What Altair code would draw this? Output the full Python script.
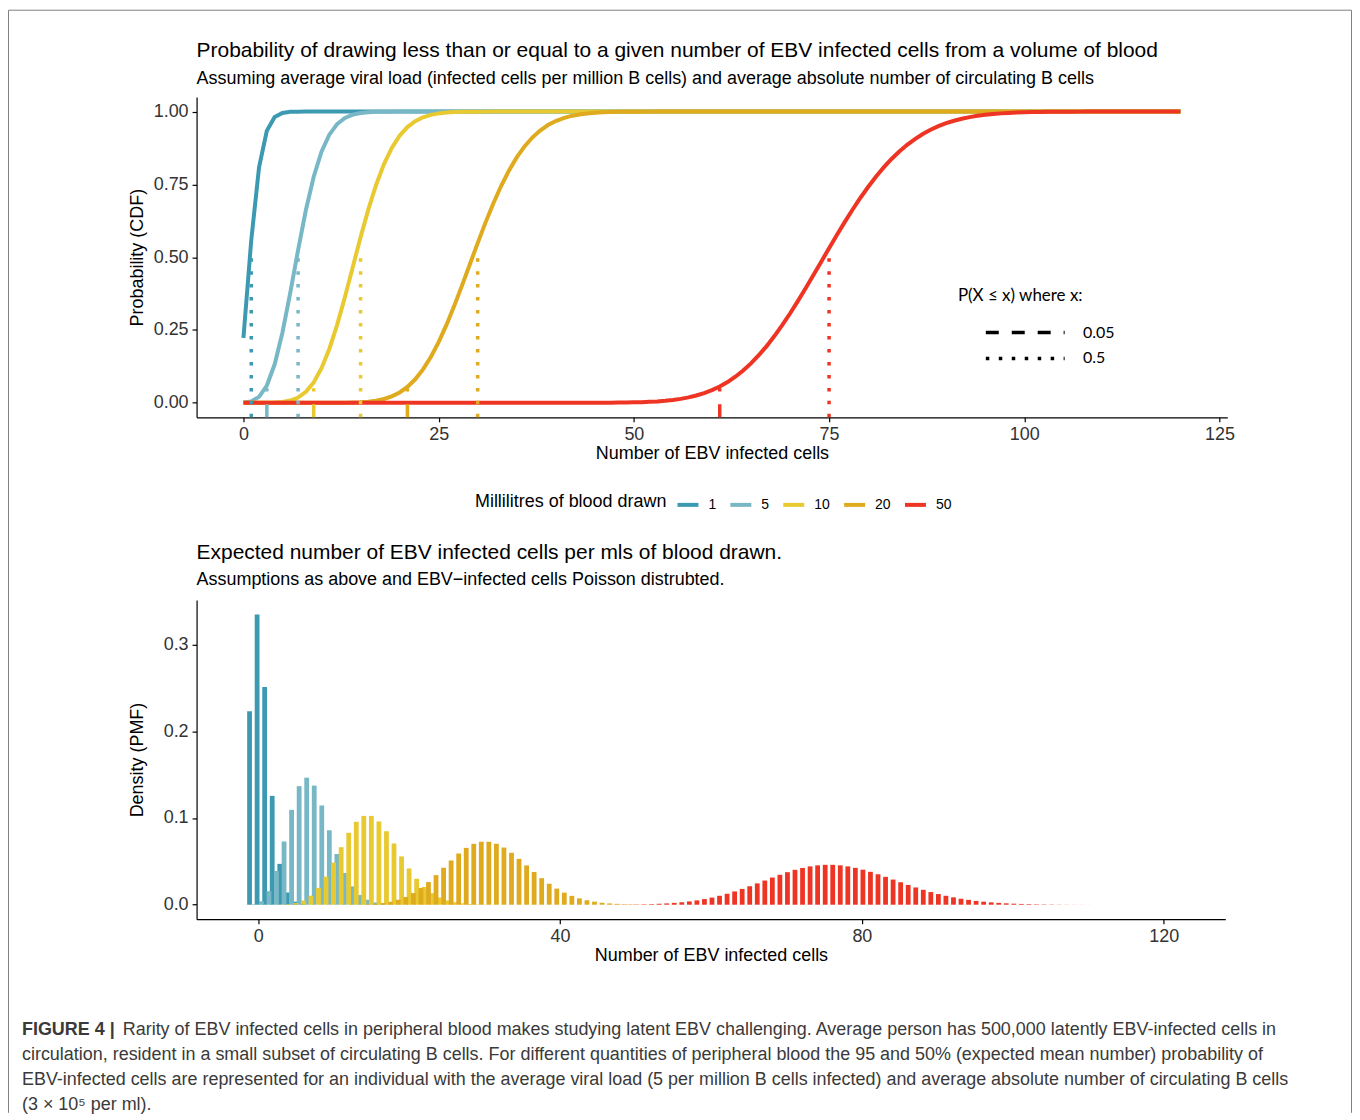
import altair as alt
import pandas as pd

# ---------------- data ----------------
ML_LABELS = ["1", "5", "10", "20", "50"]          # millilitres of blood drawn
COLORS = ["#3B9AB2", "#78B7C5", "#E8C930", "#DFAA1E", "#EE3423"]

# cumulative probabilities (top panel), first value at integer CDF_START
CDF_START = [0, 0, 0, 8, 40]
CDF_1 = [0.2231, 0.5578, 0.8088, 0.9344, 0.9814, 0.9955, 0.9991, 0.9998, 1.0000]
CDF_5 = [0.0006, 0.0047, 0.0203, 0.0591, 0.1321, 0.2414, 0.3782, 0.5246, 0.6620,
         0.7764, 0.8622, 0.9208, 0.9573, 0.9784, 0.9897, 0.9954, 0.9980, 0.9992,
         0.9997, 0.9999, 1.0000]
CDF_10 = [0.0000, 0.0000, 0.0000, 0.0002, 0.0009, 0.0028, 0.0076, 0.0180, 0.0374,
          0.0699, 0.1185, 0.1848, 0.2676, 0.3632, 0.4657, 0.5681, 0.6641, 0.7489,
          0.8195, 0.8752, 0.9170, 0.9469, 0.9673, 0.9805, 0.9888, 0.9938, 0.9967,
          0.9983, 0.9991, 0.9996, 0.9998, 0.9999, 1.0000]
CDF_20 = [0.0000, 0.0000, 0.0000, 0.0001, 0.0002, 0.0004, 0.0009, 0.0019, 0.0039,
          0.0073, 0.0129, 0.0219, 0.0353, 0.0544, 0.0806, 0.1146, 0.1572, 0.2083,
          0.2673, 0.3328, 0.4031, 0.4757, 0.5484, 0.6186, 0.6845, 0.7444, 0.7973,
          0.8426, 0.8803, 0.9109, 0.9351, 0.9537, 0.9676, 0.9778, 0.9851, 0.9902,
          0.9937, 0.9960, 0.9975, 0.9985, 0.9991, 0.9994, 0.9996, 0.9998, 0.9999,
          1.0000]
CDF_50 = [0.0000, 0.0000, 0.0000, 0.0000, 0.0001, 0.0001, 0.0002, 0.0004, 0.0006,
          0.0009, 0.0014, 0.0021, 0.0032, 0.0047, 0.0068, 0.0096, 0.0134, 0.0184,
          0.0249, 0.0331, 0.0433, 0.0560, 0.0712, 0.0894, 0.1107, 0.1353, 0.1632,
          0.1945, 0.2290, 0.2665, 0.3066, 0.3491, 0.3933, 0.4387, 0.4847, 0.5307,
          0.5761, 0.6204, 0.6629, 0.7033, 0.7411, 0.7762, 0.8082, 0.8372, 0.8631,
          0.8859, 0.9058, 0.9230, 0.9376, 0.9499, 0.9602, 0.9686, 0.9755, 0.9811,
          0.9855, 0.9890, 0.9918, 0.9939, 0.9955, 0.9967, 0.9977, 0.9983, 0.9989,
          0.9992, 0.9995, 0.9997, 0.9998, 0.9999, 1.0000]
CDF_VALUES = [CDF_1, CDF_5, CDF_10, CDF_20, CDF_50]
LINE_FIRST_X, LINE_FIRST_P = 0, 0.0
LINE_LAST_X, LINE_LAST_P = 120, 1.0

# quantile markers: P(X <= x) = 0.05 (dashed) and 0.5 (dotted)
Q_LEVELS = ["0.05", "0.5"]
Q_PROBS = [0.05, 0.5]
Q05_X = [None, 3, 9, 21, 61]
Q50_X = [1, 7, 15, 30, 75]

# probability mass (bottom panel), first value at integer PMF_START
PMF_START = [0, 0, 3, 11, 44]
PMF_1 = [0.2231, 0.3347, 0.2510, 0.1255, 0.0471, 0.0141, 0.0035, 0.0008, 0.0001]
PMF_5 = [0.0006, 0.0041, 0.0156, 0.0389, 0.0729, 0.1094, 0.1367, 0.1465, 0.1373,
         0.1144, 0.0858, 0.0585, 0.0366, 0.0211, 0.0113, 0.0057, 0.0026, 0.0012,
         0.0005, 0.0002, 0.0001]
PMF_10 = [0.0002, 0.0006, 0.0019, 0.0048, 0.0104, 0.0194, 0.0324, 0.0486, 0.0663,
          0.0829, 0.0956, 0.1024, 0.1024, 0.0960, 0.0847, 0.0706, 0.0557, 0.0418,
          0.0299, 0.0204, 0.0133, 0.0083, 0.0050, 0.0029, 0.0016, 0.0009, 0.0004,
          0.0002, 0.0001]
PMF_20 = [0.00004, 0.0001, 0.0002, 0.0005, 0.0010, 0.0019, 0.0034, 0.0057, 0.0089,
          0.0134, 0.0192, 0.0261, 0.0341, 0.0426, 0.0511, 0.0590, 0.0655, 0.0702,
          0.0726, 0.0726, 0.0703, 0.0659, 0.0599, 0.0529, 0.0453, 0.0378, 0.0306,
          0.0242, 0.0186, 0.0139, 0.0102, 0.0073, 0.0051, 0.0035, 0.0023, 0.0015,
          0.0010, 0.0006, 0.0004, 0.0002, 0.0001, 0.0001]
PMF_50 = [0.00003, 0.00005, 0.00009, 0.00014, 0.00022, 0.00033, 0.0005, 0.0007,
          0.0011, 0.0015, 0.0021, 0.0028, 0.0038, 0.0050, 0.0065, 0.0082, 0.0103,
          0.0126, 0.0153, 0.0182, 0.0213, 0.0246, 0.0279, 0.0313, 0.0345, 0.0375,
          0.0402, 0.0424, 0.0442, 0.0454, 0.0460, 0.0460, 0.0454, 0.0442, 0.0425,
          0.0404, 0.0379, 0.0351, 0.0321, 0.0290, 0.0259, 0.0228, 0.0199, 0.0172,
          0.0146, 0.0123, 0.0103, 0.0085, 0.0069, 0.0056, 0.0044, 0.0035, 0.0027,
          0.0021, 0.0016, 0.0012, 0.0009, 0.0007, 0.0005, 0.0004, 0.0003, 0.0002,
          0.00013, 0.00009, 0.00007, 0.00004, 0.00003, 0.00002, 0.00001, 0.00001,
          0.00001, 0.000004, 0.000003, 0.000002, 0.000001, 0.000001, 0.0000004]
PMF_VALUES = [PMF_1, PMF_5, PMF_10, PMF_20, PMF_50]

TITLE_TOP = "Probability of drawing less than or equal to a given number of EBV infected cells from a volume of blood"
SUB_TOP = "Assuming average viral load (infected cells per million B cells) and average absolute number of circulating B cells"
TITLE_BOT = "Expected number of EBV infected cells per mls of blood drawn."
SUB_BOT = "Assumptions as above and EBV\u2212infected cells Poisson distrubted."
CAPTION_BOLD = "FIGURE 4 |"
CAPTION_L1 = "Rarity of EBV infected cells in peripheral blood makes studying latent EBV challenging. Average person has 500,000 latently EBV-infected cells in"
CAPTION_REST = [
    "circulation, resident in a small subset of circulating B cells. For different quantities of peripheral blood the 95 and 50% (expected mean number) probability of",
    "EBV-infected cells are represented for an individual with the average viral load (5 per million B cells infected) and average absolute number of circulating B cells",
    "(3 \u00d7 10\u2075 per ml).",
]

# ---------------- tables ----------------
cdf_rows = []
for i, ml in enumerate(ML_LABELS):
    s = CDF_START[i]
    if s > LINE_FIRST_X:
        cdf_rows.append({"ml": ml, "idx": i, "x": LINE_FIRST_X, "p": LINE_FIRST_P})
    for j, v in enumerate(CDF_VALUES[i]):
        cdf_rows.append({"ml": ml, "idx": i, "x": s + j, "p": v})
    cdf_rows.append({"ml": ml, "idx": i, "x": LINE_LAST_X, "p": LINE_LAST_P})
cdf_df = pd.DataFrame(cdf_rows)

q_rows = []
for i, ml in enumerate(ML_LABELS):
    for lvl, prob, xs in zip(Q_LEVELS, Q_PROBS, [Q05_X, Q50_X]):
        if xs[i] is not None:
            q_rows.append({"ml": ml, "idx": i, "q": xs[i], "level": lvl, "p": prob})
q_df = pd.DataFrame(q_rows)

pmf_rows = []
for i, ml in enumerate(ML_LABELS):
    for j, v in enumerate(PMF_VALUES[i]):
        pmf_rows.append({"ml": ml, "idx": i, "k": PMF_START[i] + j, "d": v})
pmf_df = pd.DataFrame(pmf_rows)

one = pd.DataFrame({"z": [0]})

FONT = "Liberation Sans"
TOP_W, TOP_H = 1033, 321
BOT_W, BOT_H = 1031, 320
GAP = 183

color_scale = alt.Scale(domain=ML_LABELS, range=COLORS)
x_top = alt.Scale(domain=[-6, 126], nice=False, zero=False)
y_top = alt.Scale(domain=[-0.05, 1.05], nice=False, zero=False)

lines = alt.Chart(cdf_df).mark_line(strokeWidth=4, strokeCap="butt").encode(
    x=alt.X("x:Q", scale=x_top,
            axis=alt.Axis(values=[0, 25, 50, 75, 100, 125], title="Number of EBV infected cells")),
    y=alt.Y("p:Q", scale=y_top,
            axis=alt.Axis(values=[0, 0.25, 0.5, 0.75, 1.0], format=".2f",
                          title="Probability (CDF)", titleX=-50)),
    color=alt.Color("ml:N", scale=color_scale, sort=ML_LABELS,
                    legend=alt.Legend(title="Millilitres of blood drawn", orient="none",
                                      legendX=279, legendY=396, direction="horizontal",
                                      titleOrient="left", titleLimit=500, symbolType="stroke",
                                      symbolSize=441, symbolStrokeWidth=4,
                                      labelFontSize=14, titleFontSize=18,
                                      titleFontWeight="normal", columnPadding=6,
                                      labelOffset=8, titlePadding=8)),
    order=alt.Order("x:Q"),
)

# long horizontal key drawn with a custom path (scaled by sqrt(size)/2 = 5 px)
rules = alt.Chart(q_df).transform_calculate(lo="-0.05").mark_rule(strokeWidth=3.5, strokeCap="butt").encode(
    x=alt.X("q:Q", scale=x_top),
    y=alt.Y("lo:Q", scale=y_top, title="Probability (CDF)"),
    y2="p:Q",
    color=alt.Color("ml:N", scale=color_scale, legend=None),
    strokeDash=alt.StrokeDash("level:N",
                              scale=alt.Scale(domain=Q_LEVELS, range=[[13, 13], [3.5, 9.5]]),
                              legend=alt.Legend(title="P(X \u2264 x) where x:", orient="none",
                                                legendX=763, legendY=191,
                                                symbolType="M-7.9,0H7.9", symbolSize=100,
                                                symbolStrokeWidth=3.5, symbolStrokeColor="black",
                                                symbolFillColor="transparent",
                                                symbolOffset=59.5, rowPadding=10,
                                                labelFont="Lato", labelFontSize=16,
                                                titleFont="Lato", titleFontSize=17,
                                                titleFontWeight="normal", labelOffset=50,
                                                titlePadding=20)),
)

top = alt.layer(lines, rules).properties(
    width=TOP_W, height=TOP_H,
    title=alt.TitleParams(TITLE_TOP, subtitle=SUB_TOP, anchor="start", frame="group",
                          fontSize=21, subtitleFontSize=18, font=FONT, subtitleFont=FONT,
                          fontWeight="normal", color="black", subtitleColor="black",
                          offset=9.5, subtitlePadding=8.5),
)

x_bot = alt.Scale(domain=[-7.5, 127.5], nice=False, zero=False)
y_bot = alt.Scale(domain=[-0.0167, 0.3514], nice=False, zero=False)

bars = alt.Chart(pmf_df).transform_calculate(
    xpos="datum.k + (datum.idx - 2) * 0.57"
).mark_bar(size=4.8).encode(
    x=alt.X("xpos:Q", scale=x_bot,
            axis=alt.Axis(values=[0, 40, 80, 120], title="Number of EBV infected cells")),
    y=alt.Y("d:Q", scale=y_bot,
            axis=alt.Axis(values=[0, 0.1, 0.2, 0.3], format=".1f",
                          title="Density (PMF)", titleX=-50)),
    y2=alt.datum(0),
    color=alt.Color("ml:N", scale=color_scale, legend=None),
    order=alt.Order("idx:Q"),
)

bottom = bars.properties(
    width=BOT_W, height=BOT_H,
    title=alt.TitleParams(TITLE_BOT, subtitle=SUB_BOT, anchor="start", frame="group",
                          fontSize=21, subtitleFontSize=18, font=FONT, subtitleFont=FONT,
                          fontWeight="normal", color="black", subtitleColor="black",
                          offset=10.5, subtitlePadding=9),
)

# caption panel (origin sits GAP px below the bottom plot); also carries the figure frame
cap_style = dict(font=FONT, fontSize=18, color="#3a3a3a", align="left", baseline="middle")
cap_bold = alt.Chart(one).mark_text(text=CAPTION_BOLD, fontWeight="bold", **cap_style).encode(
    x=alt.value(-175), y=alt.value(-71.5))
cap_l1 = alt.Chart(one).mark_text(text=CAPTION_L1, **cap_style).encode(
    x=alt.value(-74), y=alt.value(-71.5))
cap_rest = alt.Chart(one).mark_text(text=CAPTION_REST, lineHeight=25, **cap_style).encode(
    x=alt.value(-175), y=alt.value(-46.5))

FR_TOP, FR_BOT, FR_L, FR_R = -1094, 11, -188.5, 1157.5
frame_left = alt.Chart(one).mark_rule(color="#808080", strokeWidth=1).encode(
    x=alt.value(FR_L), y=alt.value(FR_TOP), y2=alt.value(FR_BOT))
frame_top = alt.Chart(one).mark_rule(color="#808080", strokeWidth=1).encode(
    x=alt.value(FR_L), x2=alt.value(FR_R), y=alt.value(FR_TOP))
frame_right = alt.Chart(one).mark_rule(color="#808080", strokeWidth=1).encode(
    x=alt.value(FR_R), y=alt.value(FR_TOP), y2=alt.value(FR_BOT))

caption = alt.layer(frame_left, frame_top, frame_right, cap_bold, cap_l1, cap_rest).properties(
    width=BOT_W, height=5)

chart = alt.vconcat(top, bottom, caption, spacing=GAP, bounds="flush").properties(
    padding=0, background="white"
).configure_view(stroke=None).configure_axis(
    grid=False, domainColor="black", domainWidth=1.2, tickColor="black", tickWidth=1.2,
    tickSize=4.5, labelFont=FONT, labelFontSize=18, labelColor="#333333", labelPadding=4,
    titleFont=FONT, titleFontSize=18, titleFontWeight="normal", titleColor="black",
).configure_axisX(titlePadding=1).configure_legend(
    labelFont=FONT, titleFont=FONT, labelColor="black", titleColor="black",
).configure_text(font=FONT)

chart.save("out.html", embed_options={"renderer": "svg", "actions": False})
